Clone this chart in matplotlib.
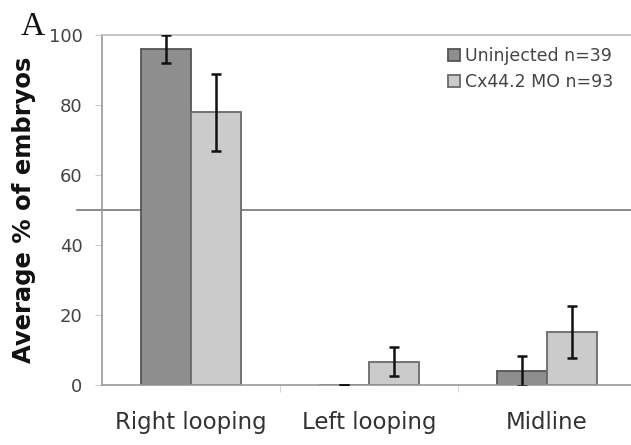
import matplotlib.pyplot as plt
import numpy as np

categories = ["Right looping", "Left looping", "Midline"]
uninjected = [96.0, 0.0, 4.0]
uninjected_err = [4.0, 0.0, 4.3]
morphant = [78.0, 6.7, 15.2]
morphant_err = [11.0, 4.2, 7.5]
series_labels = ["Uninjected n=39", "Cx44.2 MO n=93"]
yticks = [0, 20, 40, 60, 80, 100]

fig = plt.figure(figsize=(6.31, 4.45), dpi=100)
ax = fig.add_axes([0.1617, 0.1348, 0.846, 0.7865])

x = np.arange(len(categories))
w = 0.28
ax.bar(x - w/2, uninjected, w, color='#8e8e8e', edgecolor='#555555', linewidth=1.3,
       label=series_labels[0], zorder=2)
ax.bar(x + w/2, morphant, w, color='#cbcbcb', edgecolor='#6a6a6a', linewidth=1.3,
       label=series_labels[1], zorder=2)
ax.errorbar(x - w/2, uninjected, yerr=uninjected_err, fmt='none', ecolor='#111111',
            elinewidth=1.8, capsize=3.8, capthick=1.8, zorder=3)
ax.errorbar(x + w/2, morphant, yerr=morphant_err, fmt='none', ecolor='#111111',
            elinewidth=1.8, capsize=3.8, capthick=1.8, zorder=3)

# reference line at 50 %, runs past the left spine
ax.axhline(50, xmin=-0.047, xmax=1, color='#777777', linewidth=1.2, clip_on=False, zorder=1)

ax.set_xlim(-0.5, 2.5)
ax.set_ylim(0, 100)
ax.set_yticks(yticks)
ax.set_xticks(x)
ax.set_xticklabels(categories, fontsize=16.5, color='#333333')
ax.set_xticks([0.5, 1.5], minor=True)
ax.tick_params(axis='x', which='major', length=0, pad=19)
ax.tick_params(axis='x', which='minor', length=5, color='#cccccc')
ax.tick_params(axis='y', length=5, color='#cccccc', labelsize=13, labelcolor='#444444', pad=9)

for side in ['left', 'bottom']:
    ax.spines[side].set_color('#999999')
    ax.spines[side].set_linewidth(1.2)
ax.spines['top'].set_color('#bbbbbb')
ax.spines['top'].set_linewidth(1.2)
ax.spines['right'].set_visible(False)

ax.set_ylabel("Average % of embryos", fontsize=17.5, fontweight='bold', color='#111111', labelpad=9)

leg = ax.legend(loc='upper left', bbox_to_anchor=(0.625, 1.0), frameon=False, fontsize=12.5,
                handlelength=0.7, handleheight=0.7, handletextpad=0.3, labelspacing=0.45,
                borderaxespad=0.3)
for t in leg.get_texts():
    t.set_color('#444444')

fig.text(0.032, 0.922, "A", fontsize=24, family='Liberation Serif', color='#111111')

fig.savefig("out.png", dpi=100)
